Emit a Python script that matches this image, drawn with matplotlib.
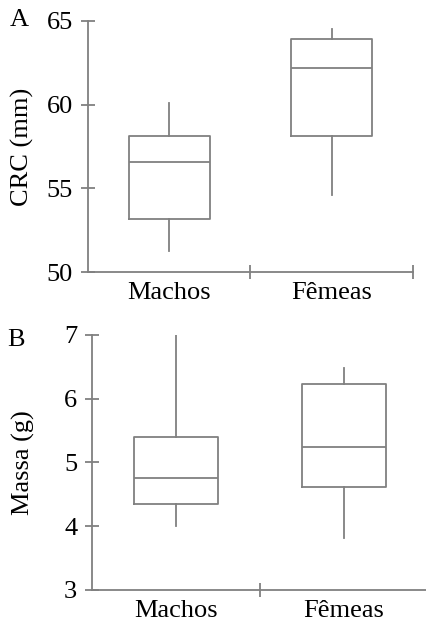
import matplotlib
matplotlib.use("Agg")
import matplotlib.pyplot as plt

plt.rcParams['font.family'] = ['Liberation Serif', 'DejaVu Serif']

groups = ["Machos", "Fêmeas"]

# Comprimento rostro-cloacal (mm): whisker low, Q1, median, Q3, whisker high
crc_low = [51.3, 54.6]
crc_q1 = [53.2, 58.1]
crc_med = [56.6, 62.2]
crc_q3 = [58.1, 63.9]
crc_high = [60.1, 64.5]

# Massa (g)
massa_low = [4.0, 3.82]
massa_q1 = [4.35, 4.62]
massa_med = [4.75, 5.24]
massa_q3 = [5.4, 6.23]
massa_high = [7.0, 6.48]

crc_ticks = [50, 55, 60, 65]
massa_ticks = [3, 4, 5, 6, 7]

GRAY = "#808080"
FS = 19
W, H = 427, 623


def stats(low, q1, med, q3, high):
    return [dict(whislo=a, q1=b, med=c, q3=d, whishi=e, fliers=[], label=g)
            for a, b, c, d, e, g in zip(low, q1, med, q3, high, groups)]


def panel(ax, st, ticks, ylabel, label_x_px, letter, letter_xy):
    ax.bxp(st, positions=[0, 1], widths=0.5, showcaps=False, showfliers=False,
           boxprops=dict(color=GRAY, linewidth=1.3),
           whiskerprops=dict(color=GRAY, linewidth=1.3),
           medianprops=dict(color=GRAY, linewidth=1.3))
    ax.set_xlim(-0.5, 1.5)
    ax.set_ylim(ticks[0], ticks[-1])
    ax.set_yticks(ticks)
    ax.set_xticks([0, 1])
    ax.set_xticklabels(groups)
    ax.set_xticks([0.5, 1.5], minor=True)
    for s in ("top", "right"):
        ax.spines[s].set_visible(False)
    for s in ("left", "bottom"):
        ax.spines[s].set_color(GRAY)
        ax.spines[s].set_linewidth(1.3)
    ax.spines["bottom"].set_bounds(-0.5, 1.5)
    ax.tick_params(axis="y", direction="inout", length=10, width=1.3,
                   color=GRAY, labelsize=FS, pad=6)
    ax.tick_params(axis="x", which="major", length=0, labelsize=FS, pad=7)
    ax.tick_params(axis="x", which="minor", direction="inout", length=10,
                   width=1.3, color=GRAY)
    ax.set_ylabel(ylabel, fontsize=FS)
    # place the y label's outer edge at a fixed pixel column
    pos = ax.get_position()
    ax.yaxis.set_label_coords((label_x_px / W - pos.x0) / pos.width, 0.5)
    ax.figure.text(letter_xy[0], letter_xy[1], letter, fontsize=FS,
                   ha="left", va="top")


fig = plt.figure(figsize=(W / 100, H / 100), dpi=100)
ax_a = fig.add_axes([0.2061, 0.5629, 0.7611, 0.4039])
ax_b = fig.add_axes([0.2166, 0.0530, 0.7857, 0.4093])

panel(ax_a, stats(crc_low, crc_q1, crc_med, crc_q3, crc_high),
      crc_ticks, "CRC (mm)", 34, "A", (10 / W, 1 - 9 / H))
panel(ax_b, stats(massa_low, massa_q1, massa_med, massa_q3, massa_high),
      massa_ticks, "Massa (g)", 35, "B", (7 / W, 1 - 329 / H))

fig.savefig("out.png", dpi=100)
